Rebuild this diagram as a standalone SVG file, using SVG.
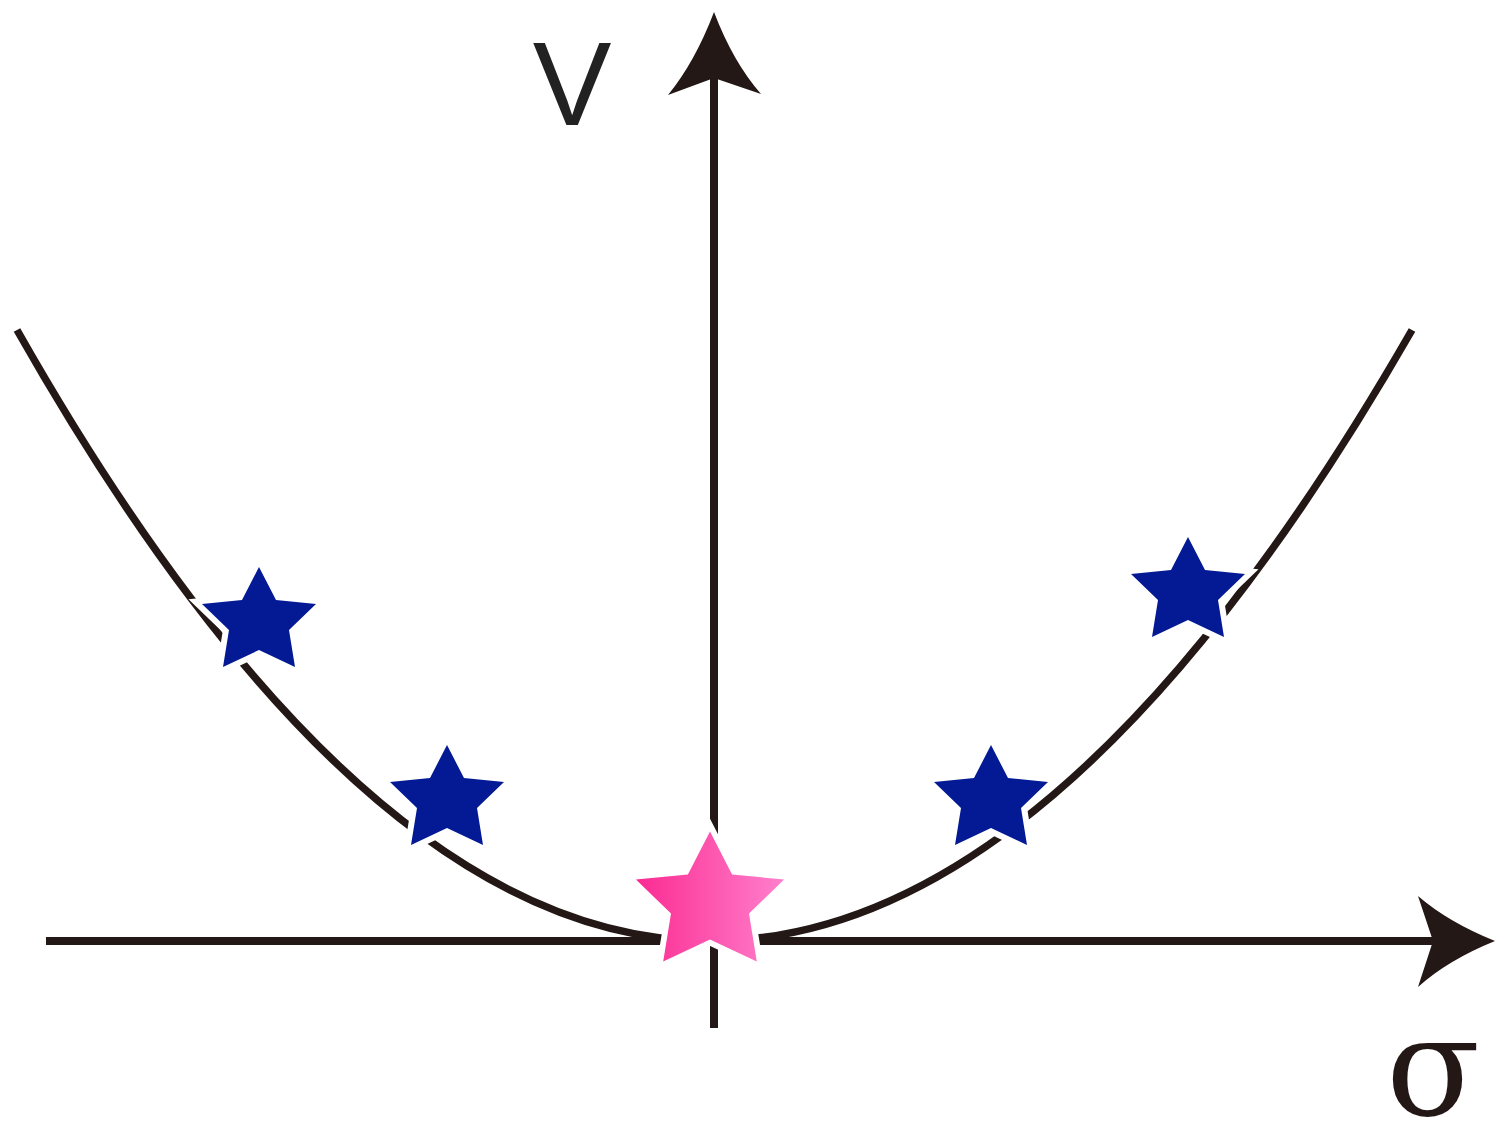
<svg xmlns="http://www.w3.org/2000/svg" width="1495" height="1121" viewBox="0 0 1495 1121">
<style>
.ax{stroke:#231815;stroke-width:8;fill:none}
.head{fill:#231815}
.curve{stroke:#231815;stroke-width:7.5;fill:none}
.star{stroke:#fff;stroke-width:12;paint-order:stroke;stroke-linejoin:miter}
.blue{fill:#031A94}
</style>
<defs>
<path id="starShape" d="M0,-55 L17,-22 L57,-18 L30,8 L36,45 L0,28 L-36,45 L-30,8 L-57,-18 L-17,-22 Z"/>
<linearGradient id="pinkGrad" x1="0" y1="0" x2="1" y2="0">
<stop offset="0" stop-color="#FB2B92"/>
<stop offset="1" stop-color="#FF80CC"/>
</linearGradient>
</defs>
<g id="connectors">
<g id="v-axis">
<line class="ax" x1="714" y1="1028" x2="714" y2="74"/>
<path class="head" d="M714,12 Q695,62 668,95 L714,78 L761,94 Q733,62 714,12 Z"/>
</g>
<g id="sigma-axis">
<line class="ax" x1="46" y1="941" x2="1440" y2="941"/>
<path class="head" d="M1495,941 Q1448,922 1418,896 L1433,941 L1418,987 Q1448,960 1495,941 Z"/>
</g>
<path id="curve" class="curve" d="M17,330 Q363.5,941 710,941 Q1061,941 1412,330"/>
</g>
<g id="star-1"><use href="#starShape" class="star blue" transform="translate(259,622)"/></g>
<g id="star-2"><use href="#starShape" class="star blue" transform="translate(447,800)"/></g>
<g id="star-3"><use href="#starShape" class="star blue" transform="translate(991,800)"/></g>
<g id="star-4"><use href="#starShape" class="star blue" transform="translate(1188,592)"/></g>
<g id="star-center"><use href="#starShape" fill="url(#pinkGrad)" stroke="#fff" stroke-width="9" paint-order="stroke" transform="translate(710,903) scale(1.3)"/></g>
<g id="label-v"><text x="572" y="125" font-family="Liberation Sans, sans-serif" font-size="118" fill="#222" text-anchor="middle">V</text></g>
<g id="label-sigma"><text x="1433" y="1115" font-family="DejaVu Serif, serif" font-size="138" fill="#231815" text-anchor="middle">σ</text></g>
</svg>
